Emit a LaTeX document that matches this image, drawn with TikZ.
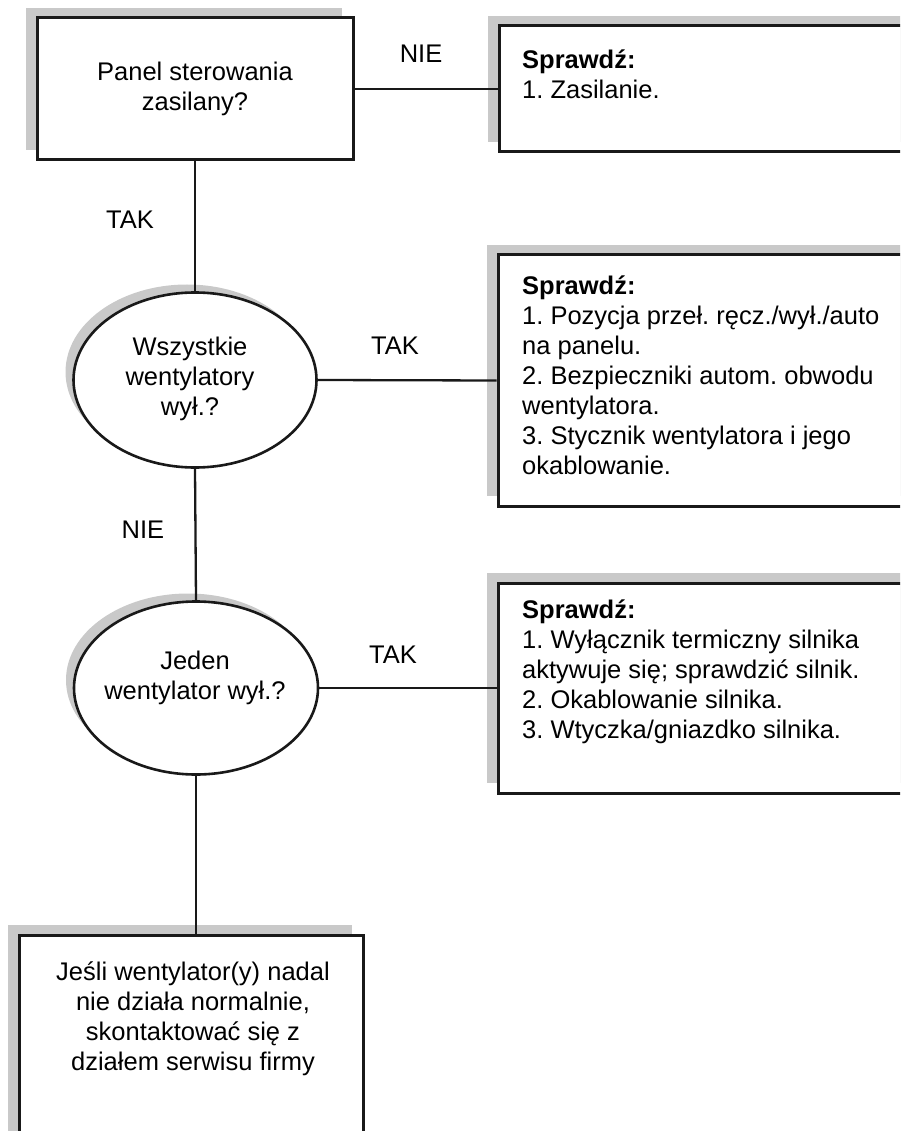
\documentclass[tikz,border=0pt]{standalone}
\usepackage{fontspec}
\setmainfont{Liberation Sans}
\frenchspacing
\usetikzlibrary{shapes.geometric,shadows}

\begin{document}
\begin{tikzpicture}[x=1pt, y=-1pt,
    font=\fontsize{25.5}{30}\selectfont,
    box/.style={rectangle, draw=black!90, line width=3pt, fill=white, inner sep=0pt,
        drop shadow={shadow xshift=-11pt, shadow yshift=10pt, fill=black!21, opacity=1}},
    decision/.style={ellipse, draw=black!90, line width=2.6pt, fill=white, inner sep=0pt,
        drop shadow={shadow xshift=-8pt, shadow yshift=8pt, fill=black!21, opacity=1}},
    ltxt/.style={inner sep=0pt, align=left, anchor=base west},
    ctxt/.style={inner sep=0pt, align=center, anchor=base},
    link/.style={draw=black!90, line width=2.3pt}]
  \useasboundingbox (0,0) rectangle (900,1131);
  \clip (0,0) rectangle (900,1131);

  % left column
  \node (p1) at (195,89) [box, minimum width=316pt, minimum height=142pt, align=center] {Panel sterowania\\zasilany?};
  \node (q2) at (195,380) [decision, minimum width=243pt, minimum height=175pt] {};
  \node (q3) at (196,688) [decision, minimum width=244pt, minimum height=173pt] {};
  \node (fin) at (191,1048) [box, minimum width=344pt, minimum height=226pt] {};

  % texts sit on the baseline of their last line
  \node (q2txt) at (190,415) [ctxt] {Wszystkie\\wentylatory\\wył.?};
  \node (q3txt) at (195,699) [ctxt] {Jeden\\wentylator wył.?};
  \node (fintxt) at (193,1070) [ctxt] {Jeśli wentylator(y) nadal\\nie działa normalnie,\\skontaktować się z\\działem serwisu firmy};

  % right column
  \node (chk1) at (712,89) [box, minimum width=426pt, minimum height=126pt] {};
  \node (chk2) at (711,380.5) [box, minimum width=426pt, minimum height=251pt] {};
  \node (chk3) at (711,688) [box, minimum width=426pt, minimum height=210pt] {};

  \node (chk1txt) at (522,99) [ltxt] {\textbf{Sprawdź:}\\1. Zasilanie.};
  \node (chk2txt) at (522,474) [ltxt] {\textbf{Sprawdź:}\\1. Pozycja przeł. ręcz./wył./auto\\na panelu.\\2. Bezpieczniki autom. obwodu\\wentylatora.\\3. Stycznik wentylatora i jego\\okablowanie.};
  \node (chk3txt) at (522,738) [ltxt] {\textbf{Sprawdź:}\\1. Wyłącznik termiczny silnika\\aktywuje się; sprawdzić silnik.\\2. Okablowanie silnika.\\3. Wtyczka/gniazdko silnika.};

  % connectors
  \draw[link] (p1.south -| q2.north) -- (q2.north);
  \draw[link] (q2.south) -- (q3.north);
  \draw[link] (q3.south) -- (q3.south |- fin.north);
  \draw[link] (p1.east) -- (chk1.west);
  \draw[link] (q2.east) -- (chk2.west);
  \draw[link] (q3.east) -- (chk3.west);

  % answers
  \node (yes1) at (130,229) [ctxt] {TAK};
  \node (no1) at (421,63) [ctxt] {NIE};
  \node (yes2) at (395,354) [ctxt] {TAK};
  \node (no2) at (143,538) [ctxt] {NIE};
  \node (yes3) at (393,663) [ctxt] {TAK};
\end{tikzpicture}
\end{document}
